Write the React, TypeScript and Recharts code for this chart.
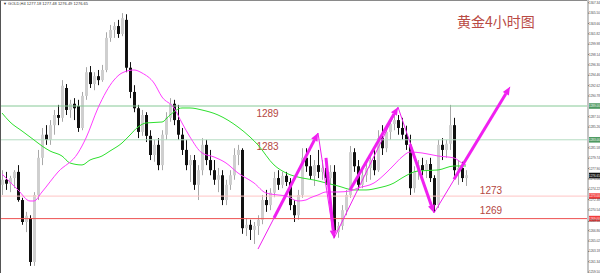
import React from "react";
import { ComposedChart, Bar, Line, XAxis, YAxis, ReferenceLine } from "recharts";

// GOLD H4 candles
const opens = [
  1275.0, 1275.9, 1275.2, 1276.2, 1277.3, 1272.3, 1268.4, 1269.1, 1261.3, 1273.2,
  1279.8, 1283.9, 1283.0, 1285.6, 1287.4, 1286.9, 1292.2, 1288.3, 1289.4, 1289.0,
  1285.1, 1290.8, 1295.0, 1292.9, 1294.3, 1293.6, 1295.4, 1301.1, 1302.5, 1303.2,
  1301.8, 1304.3, 1295.8, 1291.5, 1288.6, 1284.4, 1287.4, 1283.7, 1280.3, 1282.1,
  1278.5, 1283.9, 1286.9, 1289.4, 1286.5, 1283.9, 1281.2, 1278.5, 1279.4, 1275.0,
  1277.6, 1282.1, 1279.4, 1277.6, 1275.9, 1276.7, 1272.3, 1275.0, 1276.7, 1280.3,
  1281.2, 1267.3, 1267.9, 1267.0, 1267.7, 1268.8, 1272.3, 1271.4, 1273.6, 1276.2,
  1275.0, 1276.6, 1275.5, 1271.4, 1269.6, 1273.2, 1279.8, 1278.3, 1276.6, 1278.5,
  1277.3, 1278.0, 1276.2, 1277.3, 1266.6, 1267.7, 1270.5, 1273.2, 1280.8, 1278.3,
  1275.0, 1276.7, 1278.0, 1279.4, 1277.6, 1283.3, 1281.5, 1284.4, 1285.8, 1286.5,
  1285.1, 1283.9, 1282.1, 1274.4, 1277.3, 1278.5, 1277.6, 1278.7, 1276.2, 1271.4,
  1282.1, 1281.2, 1282.3, 1285.6, 1277.6, 1278.0, 1276.2,
];
const highs = [
  1277.6, 1277.3, 1276.6, 1277.6, 1278.5, 1272.7, 1270.2, 1269.6, 1273.7, 1281.2,
  1285.1, 1285.6, 1286.5, 1288.3, 1289.2, 1293.6, 1292.9, 1290.1, 1290.4, 1290.1,
  1291.5, 1295.9, 1296.1, 1295.0, 1295.4, 1296.3, 1302.1, 1303.4, 1303.9, 1304.3,
  1305.5, 1305.3, 1296.8, 1292.7, 1289.2, 1288.3, 1287.9, 1284.7, 1283.0, 1283.3,
  1284.7, 1287.9, 1290.4, 1290.1, 1289.2, 1285.1, 1283.0, 1280.3, 1280.3, 1278.5,
  1283.3, 1283.0, 1281.2, 1279.4, 1278.0, 1277.6, 1275.9, 1277.6, 1281.5, 1282.1,
  1281.5, 1269.1, 1268.8, 1268.4, 1269.6, 1273.2, 1274.1, 1274.4, 1277.3, 1277.6,
  1277.3, 1277.3, 1276.2, 1272.3, 1274.1, 1281.5, 1281.5, 1280.3, 1279.4, 1281.2,
  1279.4, 1279.4, 1278.5, 1278.5, 1268.4, 1271.4, 1274.1, 1281.9, 1281.5, 1279.4,
  1277.6, 1279.1, 1280.1, 1281.2, 1284.7, 1285.6, 1285.1, 1286.9, 1287.9, 1287.4,
  1286.9, 1285.5, 1283.9, 1278.3, 1279.4, 1279.8, 1279.4, 1279.8, 1276.7, 1283.0,
  1283.3, 1283.0, 1289.2, 1286.9, 1279.4, 1279.1, 1277.6,
];
const lows = [
  1273.2, 1274.1, 1273.7, 1274.4, 1272.0, 1267.9, 1266.6, 1260.6, 1260.6, 1272.3,
  1278.5, 1282.1, 1282.1, 1283.9, 1285.6, 1286.2, 1287.4, 1286.9, 1286.5, 1284.4,
  1284.7, 1290.1, 1292.2, 1291.8, 1292.7, 1293.3, 1295.0, 1300.4, 1301.1, 1301.1,
  1301.4, 1295.0, 1290.4, 1287.9, 1283.3, 1283.7, 1282.6, 1279.4, 1279.1, 1277.6,
  1277.6, 1283.0, 1286.2, 1285.6, 1283.0, 1280.3, 1277.6, 1275.5, 1274.1, 1272.3,
  1276.7, 1278.5, 1276.7, 1275.0, 1273.7, 1271.4, 1271.4, 1274.1, 1275.9, 1278.5,
  1266.3, 1265.9, 1265.2, 1264.5, 1266.1, 1268.0, 1270.2, 1270.5, 1272.8, 1274.1,
  1274.4, 1274.8, 1270.5, 1268.4, 1268.8, 1272.7, 1277.3, 1275.9, 1274.8, 1276.2,
  1275.9, 1275.0, 1275.0, 1265.6, 1265.6, 1267.0, 1269.6, 1272.7, 1277.3, 1274.1,
  1274.4, 1275.5, 1275.9, 1276.7, 1277.3, 1280.3, 1280.8, 1283.0, 1284.7, 1283.9,
  1283.0, 1281.2, 1273.2, 1273.6, 1275.9, 1276.7, 1276.2, 1275.5, 1270.2, 1270.9,
  1279.4, 1279.8, 1281.2, 1276.6, 1275.0, 1275.5, 1274.8,
];
const closes = [
  1275.9, 1275.2, 1276.2, 1277.3, 1272.3, 1268.4, 1269.5, 1261.3, 1273.2, 1279.8,
  1283.9, 1283.0, 1285.6, 1287.4, 1286.9, 1292.6, 1288.3, 1289.4, 1288.6, 1285.1,
  1290.8, 1295.0, 1292.9, 1294.3, 1293.6, 1295.4, 1301.1, 1302.5, 1303.2, 1301.8,
  1304.6, 1295.8, 1291.5, 1288.6, 1284.4, 1287.4, 1283.7, 1280.3, 1282.1, 1278.5,
  1283.9, 1286.9, 1289.4, 1286.5, 1283.9, 1281.2, 1278.5, 1279.4, 1275.0, 1277.6,
  1282.1, 1279.4, 1277.6, 1275.9, 1276.7, 1272.3, 1275.0, 1276.7, 1280.3, 1281.2,
  1267.3, 1267.9, 1267.0, 1267.7, 1268.8, 1272.3, 1271.4, 1273.6, 1276.2, 1275.0,
  1276.6, 1275.5, 1271.4, 1269.6, 1273.2, 1279.8, 1278.3, 1276.6, 1278.5, 1277.3,
  1278.0, 1276.2, 1277.3, 1266.6, 1267.7, 1270.5, 1273.2, 1280.8, 1278.3, 1275.0,
  1276.7, 1278.0, 1279.4, 1277.6, 1283.3, 1281.5, 1284.4, 1285.8, 1286.5, 1285.1,
  1283.9, 1282.1, 1274.4, 1277.3, 1278.5, 1277.6, 1278.7, 1276.2, 1271.4, 1282.1,
  1281.2, 1282.3, 1285.6, 1277.6, 1278.0, 1276.2, 1276.7,
];

// moving averages, sampled [bar index, price]
const maFast: [number, number][] = [
  [0, 1276.93], [4, 1274.09], [7, 1272.13], [8, 1272.13], [10, 1273.73], [14, 1277.28],
  [19, 1280.66], [21, 1283.32], [24, 1288.65], [28, 1293.62], [30, 1294.87], [33, 1295.4],
  [35, 1294.87], [38, 1293.09], [40, 1290.6], [43, 1288.65], [45, 1285.99], [47, 1283.5],
  [50, 1280.66], [53, 1279.95], [56, 1278.88], [59, 1277.1], [63, 1275.33], [66, 1273.55],
  [69, 1273.2], [71, 1273.02], [74, 1272.13], [76, 1272.31], [77, 1272.67], [79, 1273.2],
  [81, 1273.73], [84, 1273.73], [87, 1273.91], [89, 1274.44], [93, 1275.33], [96, 1277.1],
  [98, 1278.53], [100, 1279.95], [102, 1280.83], [105, 1280.66], [109, 1280.12],
  [113, 1279.77], [115, 1278.88], [116, 1278.53],
];
const maSlow: [number, number][] = [
  [0, 1287.76], [2, 1286.16], [5, 1284.56], [8, 1282.97], [10, 1281.9], [12, 1281.01],
  [15, 1280.12], [17, 1278.88], [20, 1278.53], [22, 1279.41], [25, 1280.12], [27, 1281.01],
  [30, 1282.43], [32, 1283.85], [34, 1285.27], [36, 1285.99], [40, 1286.16], [42, 1287.41],
  [45, 1288.65], [47, 1288.65], [50, 1288.29], [54, 1287.41], [59, 1285.27], [62, 1283.5],
  [64, 1282.08], [68, 1278.53], [71, 1277.11], [75, 1276.22], [78, 1275.86], [81, 1275.33],
  [84, 1274.8], [88, 1274.09], [91, 1274.09], [94, 1274.44], [98, 1275.33], [100, 1276.22],
  [104, 1277.46], [109, 1277.64], [113, 1278.35], [116, 1278.35],
];

const yTicks = [
  1307.34, 1305.5, 1303.66, 1301.82, 1299.98, 1298.14, 1296.3, 1294.46, 1292.62, 1290.78,
  1287.1, 1285.26, 1281.58, 1279.74, 1277.9, 1276.06, 1274.22, 1272.38, 1270.54, 1268.5,
  1266.86, 1265.02, 1263.18, 1261.34, 1259.5,
];

const levels = [
  { value: 1289, text: "1289", line: "#86c996", tag: "#4f9a62", at: 0.455, dy: 7.5 },
  { value: 1283, text: "1283", line: "#b5dcc2", tag: "#4f9a62", at: 0.455, dy: 7 },
  { value: 1273, text: "1273", line: "#ffc4c4", tag: "#f23b3b", at: 0.835, dy: -5.5 },
  { value: 1269, text: "1269", line: "#ee5050", tag: "#f23b3b", at: 0.835, dy: -8 },
];

// drawn trend arrows in [bar index, price]
const arrows: { from: [number, number]; to: [number, number]; thick: boolean }[] = [
  { from: [64, 1263.6], to: [79, 1284.2], thick: false },
  { from: [68, 1269.1], to: [79, 1284.2], thick: true },
  { from: [79, 1284.2], to: [83, 1265.5], thick: false },
  { from: [81, 1279.8], to: [83, 1265.5], thick: true },
  { from: [83, 1265.5], to: [99, 1288.8], thick: false },
  { from: [87, 1274.1], to: [99, 1288.8], thick: true },
  { from: [99, 1288.8], to: [108, 1270.0], thick: false },
  { from: [102, 1282.2], to: [108, 1270.0], thick: true },
  { from: [108, 1270.0], to: [127, 1292.4], thick: false },
  { from: [113, 1276.0], to: [127, 1292.4], thick: true },
];

const lastPrice = 1276.65;
const SLOTS = 147;
const MAG = "#f020f0";
const AXIS_FONT = 3;

const fastMap = new Map(maFast);
const slowMap = new Map(maSlow);
const data = Array.from({ length: SLOTS }, (_, i) => {
  const has = i < opens.length;
  return {
    i,
    o: has ? opens[i] : null,
    h: has ? highs[i] : null,
    l: has ? lows[i] : null,
    c: has ? closes[i] : null,
    range: has ? [lows[i], highs[i]] : null,
    fast: fastMap.get(i) ?? null,
    slow: slowMap.get(i) ?? null,
  };
});

function Candle(props: any) {
  const { x, y, width, height, payload } = props;
  if (!payload || payload.o == null) return null;
  const { o, h, l, c } = payload;
  const top = Math.min(y, y + height);
  const span = Math.abs(height);
  const k = h - l > 0 ? span / (h - l) : 0;
  const cx = Math.floor(x + width / 2) + 0.5;
  const bTop = top + (h - Math.max(o, c)) * k;
  const bBot = top + (h - Math.min(o, c)) * k;
  const up = c >= o;
  return (
    <g>
      <line x1={cx} x2={cx} y1={top} y2={top + span} stroke={up ? "#a8a8a8" : "#111"} strokeWidth={1} />
      <rect x={cx - 1.5} y={bTop} width={3} height={Math.max(1, bBot - bTop)} fill={up ? "#cfcfcf" : "#111"} />
    </g>
  );
}

const arrowShape = (thick: boolean) => (p: any) => {
  const { x1, y1, x2, y2 } = p;
  if (!thick) return <line x1={x1} y1={y1} x2={x2} y2={y2} stroke={MAG} strokeWidth={1} />;
  const dx = x2 - x1;
  const dy = y2 - y1;
  const len = Math.hypot(dx, dy) || 1;
  const ux = dx / len;
  const uy = dy / len;
  const head = 8;
  const hw = 3.5;
  const bx = x2 - ux * head;
  const by = y2 - uy * head;
  return (
    <g>
      <line x1={x1} y1={y1} x2={bx} y2={by} stroke={MAG} strokeWidth={3} />
      <polygon
        points={`${x2},${y2} ${bx - uy * hw},${by + ux * hw} ${bx + uy * hw},${by - ux * hw}`}
        fill={MAG}
      />
    </g>
  );
};

const tagLabel = (lv: (typeof levels)[number] | null, box: string, value: number) => (p: any) => {
  const vb = p.viewBox || {};
  const { x = 0, y = 0, width = 0 } = vb;
  return (
    <g>
      <rect x={x + width + 0.5} y={y - 2.8} width={11.5} height={5.6} fill={box} />
      <text x={x + width + 1} y={y + 1.1} fontSize={AXIS_FONT} fill="#fff">
        {value.toFixed(2)}
      </text>
      {lv && (
        <text
          x={x + width * lv.at}
          y={y + lv.dy + 3.5}
          fontSize={10}
          fill="#b4463e"
          textAnchor="middle"
          fontFamily="Liberation Sans, Arial, sans-serif"
        >
          {lv.text}
        </text>
      )}
    </g>
  );
};

export default function App() {
  return (
    <div style={{ position: "absolute", left: 0, top: 0, width: 600, height: 273, background: "#fff", fontFamily: "Liberation Sans, Arial, sans-serif" }}>
      <ComposedChart width={600} height={273} data={data} margin={{ top: 0, right: 0, bottom: 0, left: 0 }}>
        <XAxis dataKey="i" hide />
        <YAxis
          orientation="right"
          domain={[1259.34, 1307.83]}
          allowDataOverflow
          ticks={yTicks}
          interval={0}
          width={12}
          tickSize={1}
          tickMargin={0}
          tick={{ fontSize: AXIS_FONT, fill: "#444" }}
          tickLine={{ stroke: "#777" }}
          axisLine={{ stroke: "#c4c4c4", strokeWidth: 2 }}
          tickFormatter={(v: number) => v.toFixed(2)}
        />
        {levels.map((lv) => (
          <ReferenceLine
            key={lv.value}
            y={lv.value}
            stroke={lv.line}
            strokeWidth={1}
            label={tagLabel(lv, lv.tag, lv.value)}
          />
        ))}
        <Line dataKey="slow" stroke="#2ee02e" strokeWidth={1} dot={false} activeDot={false} connectNulls type="monotone" isAnimationActive={false} />
        <Line dataKey="fast" stroke="#ff3cff" strokeWidth={1} dot={false} activeDot={false} connectNulls type="monotone" isAnimationActive={false} />
        <Bar dataKey="range" barSize={3} shape={(p: any) => <Candle {...p} />} isAnimationActive={false} />
        {arrows.map((a, k) => (
          <ReferenceLine
            key={k}
            segment={[
              { x: a.from[0], y: a.from[1] },
              { x: a.to[0], y: a.to[1] },
            ]}
            shape={arrowShape(a.thick)}
            ifOverflow="visible"
          />
        ))}
        <ReferenceLine y={lastPrice} strokeOpacity={0} label={tagLabel(null, "#111", lastPrice)} />
      </ComposedChart>
      <div style={{ position: "absolute", left: 0, top: 0, width: 587, height: 273, borderTop: "1px solid #8a8a8a", borderLeft: "1px solid #555", pointerEvents: "none", boxSizing: "border-box" }} />
      <div style={{ position: "absolute", left: 3, top: 1, fontSize: 4, lineHeight: "5px", color: "#333", whiteSpace: "nowrap" }}>
        ▼ GOLD,H4 1277.18 1277.48 1276.49 1276.65
      </div>
      <div style={{ position: "absolute", left: 457, top: 12, fontSize: 14, lineHeight: "18px", color: "#b94a44", fontFamily: "Noto Sans CJK SC", whiteSpace: "nowrap" }}>
        黄金4小时图
      </div>
    </div>
  );
}
